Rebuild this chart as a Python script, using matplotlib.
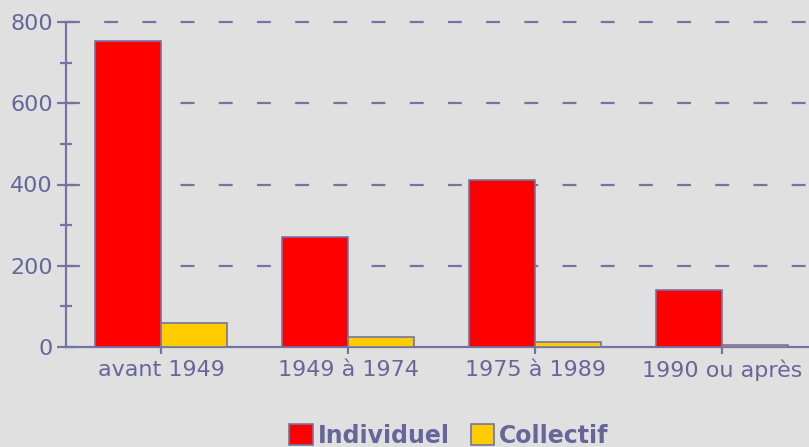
import numpy as np
import matplotlib.pyplot as plt
from matplotlib.patches import Patch

categories = ['avant 1949', '1949 à 1974', '1975 à 1989', '1990 ou après']
individuel = [753, 271, 411, 140]
collectif = [60, 25, 12, 4]
series_names = ['Individuel', 'Collectif']

plt.rcParams['lines.scale_dashes'] = False

bg = '#e0e0e0'
axis_col = '#7474a4'
text_col = '#66669a'
red = '#ff0000'
yellow = '#ffcc00'

fig = plt.figure(figsize=(8.09, 4.47), dpi=100, facecolor=bg)
ax = fig.add_axes([66 / 809, 100 / 447, 743 / 809, 325 / 447], facecolor=bg)

x = np.arange(len(categories))
w = 0.355
ax.bar(x - w / 2, individuel, w, color=red, edgecolor=axis_col, linewidth=1.2, zorder=3)
ax.bar(x + w / 2, collectif, w, color=yellow, edgecolor=axis_col, linewidth=1.2, zorder=3)

ax.set_xlim(-0.508, 3.465)
ax.set_ylim(0, 800)

# dashed grid at major ticks
for v in [200, 400, 600, 800]:
    ax.axhline(v, color=axis_col, linewidth=1.6, linestyle=(0, (10, 17.5)),
               zorder=1, clip_on=False)

for s in ['top', 'right']:
    ax.spines[s].set_visible(False)
for s in ['left', 'bottom']:
    ax.spines[s].set_color(axis_col)
    ax.spines[s].set_linewidth(1.6)

ax.set_yticks([0, 200, 400, 600, 800])
ax.set_yticks([100, 300, 500, 700], minor=True)
ax.tick_params(axis='y', which='major', direction='inout', length=13, width=1.6,
               color=axis_col, labelcolor=text_col, labelsize=16, pad=3)
ax.tick_params(axis='y', which='minor', direction='inout', length=9, width=1.6, color=axis_col)

ax.set_xticks(x)
ax.set_xticklabels(categories)
ax.tick_params(axis='x', direction='out', length=5, width=1.6, color=axis_col,
               labelcolor=text_col, labelsize=16, pad=4)

handles = [Patch(facecolor=red, edgecolor=axis_col, linewidth=1.2),
           Patch(facecolor=yellow, edgecolor=axis_col, linewidth=1.2)]
leg = fig.legend(handles, series_names, loc='center', bbox_to_anchor=(0.555, 0.025),
                 ncol=2, frameon=False, handlelength=1.0, handleheight=1.0,
                 handletextpad=0.2, columnspacing=0.9,
                 prop={'size': 17, 'weight': 'bold'})
for t in leg.get_texts():
    t.set_color(text_col)

fig.savefig('out.png', dpi=100, facecolor=bg)
